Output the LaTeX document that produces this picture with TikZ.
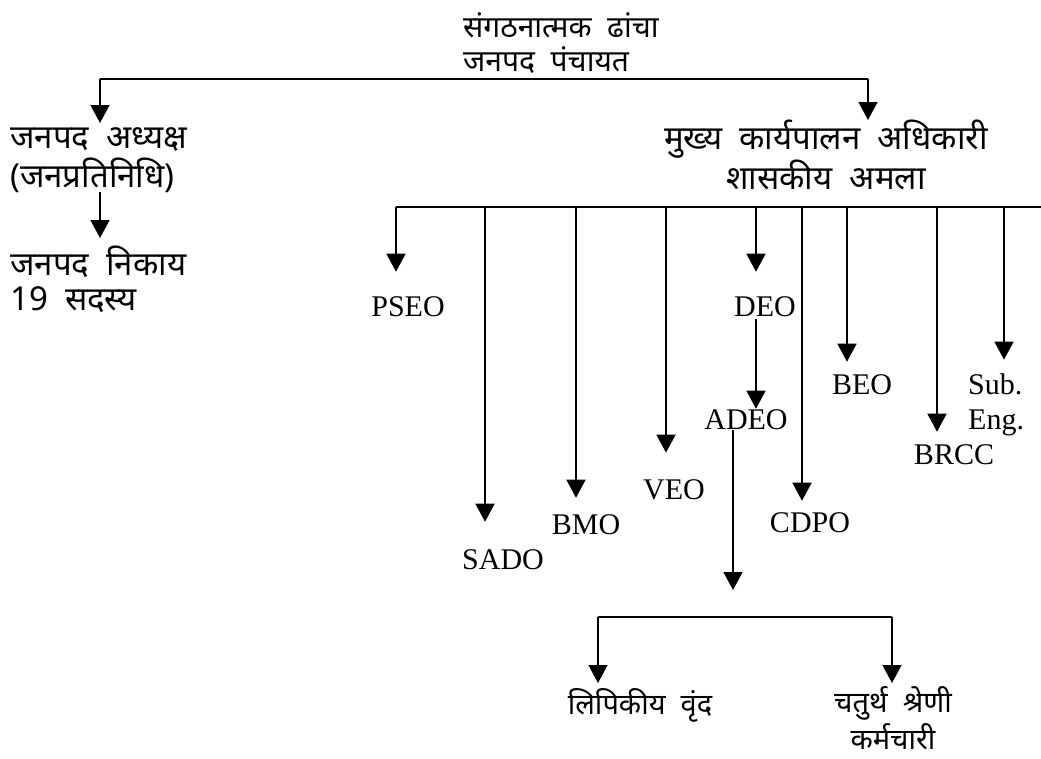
\documentclass[tikz,border=0pt]{standalone}
\usepackage{fontspec}
\setmainfont{Liberation Serif}
\newfontfamily\dev[Script=Devanagari,WordSpace=2]{Noto Sans}
\usetikzlibrary{arrows.meta}
\begin{document}
\begin{tikzpicture}[x=1pt,y=-1pt,
  conn/.style={line width=1.5pt},
  arr/.style={conn,-{Triangle[width=19pt,length=18pt]}},
  hin/.style={font=\dev\fontsize{33}{39}\selectfont, inner sep=0pt, align=left},
  hinsmall/.style={hin, font=\dev\fontsize{29}{37}\selectfont},
  eng/.style={font=\fontsize{30}{35}\selectfont, inner sep=0pt},
]
\useasboundingbox (0,0) rectangle (1041,758);

% Devanagari nodes
\node[hin, anchor=north west, font=\dev\fontsize{30}{34}\selectfont] (title) at (463,12) {संगठनात्मक ढांचा\\जनपद पंचायत};
\node[hin, anchor=north west] (adh) at (10,127) {जनपद अध्यक्ष\\(जनप्रतिनिधि)};
\node[hin, anchor=north west, font=\dev\fontsize{33}{35}\selectfont] (nik) at (10,246) {जनपद निकाय\\19 सदस्य};
\node[hin, anchor=north, align=center, font=\dev\fontsize{33}{40}\selectfont] (mukh) at (826,120) {मुख्य कार्यपालन अधिकारी\\शासकीय अमला};
\node[hinsmall, anchor=north] (lip) at (640,688) {लिपिकीय वृंद};
\node[hinsmall, anchor=north, align=center] (chat) at (893,686) {चतुर्थ श्रेणी\\कर्मचारी};

% English nodes
\node[eng] (pseo) at (408,307) {PSEO};
\node[eng] (sado) at (503,560) {SADO};
\node[eng] (bmo) at (586,525) {BMO};
\node[eng] (veo) at (674,490) {VEO};
\node[eng] (deo) at (765,307) {DEO};
\node[eng] (adeo) at (746,420) {ADEO};
\node[eng] (cdpo) at (810,523) {CDPO};
\node[eng] (beo) at (862,385) {BEO};
\node[eng] (brcc) at (954,455) {BRCC};
\node[eng, anchor=west, align=left] (sub) at (968,405) {Sub.\\Eng.};

% top bar
\coordinate (tL) at (100,79);
\coordinate (tR) at (868,79);
\draw[conn] (tL) -- (tR);
\draw[arr, shorten >=4pt] (tL) -- (tL |- adh.north);
\draw[arr] (tR) -- (tR |- mukh.north);
\draw[arr, shorten >=8pt] (adh.south -| tL) -- (nik.north -| tL);

% officials bar
\coordinate (jP) at (396,207);
\coordinate (jS) at (485,207);
\coordinate (jB) at (576,207);
\coordinate (jV) at (666,207);
\coordinate (jD) at (756,207);
\coordinate (jC) at (802,207);
\coordinate (jE) at (847,207);
\coordinate (jR) at (937,207);
\coordinate (jU) at (1004,207);
\coordinate (bEnd) at (1041,207);
\draw[conn] (jP) -- (bEnd);
\draw[arr, shorten >=25pt] (jP) -- (jP |- pseo.north);
\draw[arr, shorten >=28pt] (jS) -- (jS |- sado.north);
\draw[arr, shorten >=17pt] (jB) -- (jB |- bmo.north);
\draw[arr, shorten >=27pt] (jV) -- (jV |- veo.north);
\draw[arr, shorten >=25pt] (jD) -- (jD |- deo.north);
\draw[arr, shorten >=12pt] (jC) -- (jC |- cdpo.north);
\draw[arr, shorten >=13pt] (jE) -- (jE |- beo.north);
\draw[arr, shorten >=13pt] (jR) -- (jR |- brcc.north);
\draw[arr, shorten >=14pt] (jU) -- (jU |- sub.north);
\draw[arr, shorten <=2pt, shorten >=1pt] (deo.south -| jD) -- (jD |- adeo.north);

% ADEO downwards
\coordinate (aTip) at (733,590);
\draw[arr] (adeo.south -| aTip) -- (aTip);

% bottom bar
\coordinate (cL) at (598,617);
\coordinate (cR) at (892,617);
\draw[conn] (cL) -- (cR);
\draw[arr, shorten >=5pt] (cL) -- (cL |- lip.north);
\draw[arr, shorten >=3pt] (cR) -- (cR |- chat.north);
\end{tikzpicture}
\end{document}
